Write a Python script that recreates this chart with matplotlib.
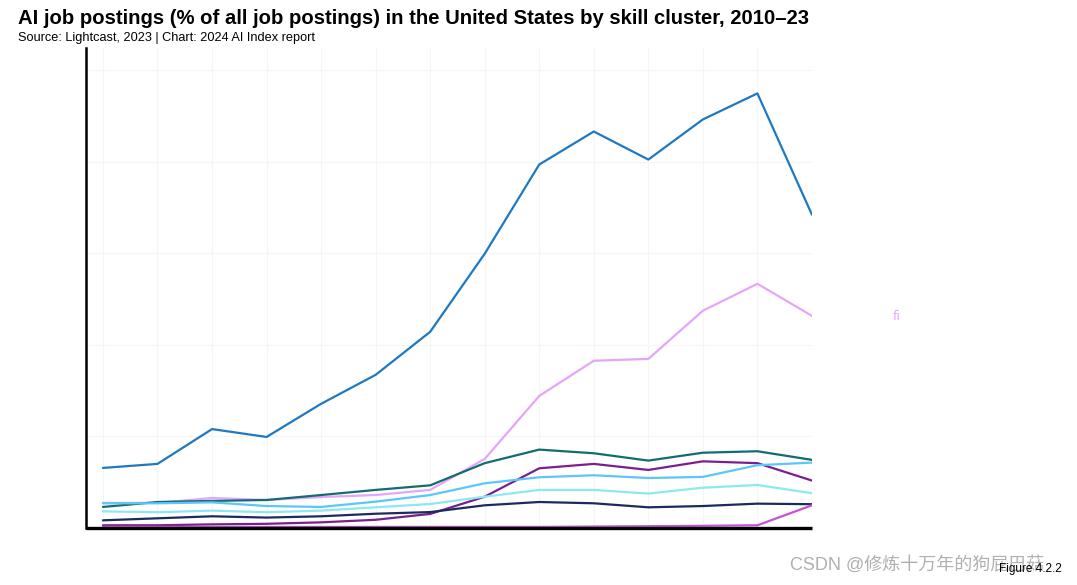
import matplotlib
matplotlib.use("Agg")
import matplotlib.pyplot as plt

years = list(range(2010, 2024))

machine_learning = [0.328, 0.35, 0.54, 0.497, 0.678, 0.836, 1.071, 1.497, 1.984, 2.164, 2.011, 2.23, 2.372, 1.71]
artificial_intelligence = [0.137, 0.137, 0.164, 0.153, 0.169, 0.18, 0.208, 0.377, 0.721, 0.913, 0.923, 1.186, 1.333, 1.158]
natural_language = [0.115, 0.142, 0.148, 0.153, 0.18, 0.208, 0.233, 0.354, 0.428, 0.408, 0.368, 0.411, 0.419, 0.372]
neural_networks = [0.015, 0.015, 0.02, 0.023, 0.031, 0.045, 0.077, 0.171, 0.326, 0.35, 0.317, 0.364, 0.354, 0.259]
visual_recognition = [0.135, 0.135, 0.14, 0.12, 0.115, 0.144, 0.18, 0.244, 0.277, 0.288, 0.273, 0.279, 0.343, 0.357]
robotics = [0.091, 0.086, 0.095, 0.086, 0.095, 0.113, 0.131, 0.171, 0.208, 0.208, 0.188, 0.22, 0.235, 0.19]
autonomous_driving = [0.042, 0.053, 0.064, 0.057, 0.064, 0.078, 0.087, 0.124, 0.142, 0.135, 0.113, 0.12, 0.133, 0.13]
generative_ai = [0.006, 0.006, 0.006, 0.006, 0.006, 0.006, 0.006, 0.006, 0.006, 0.008, 0.01, 0.012, 0.015, 0.124]

series = [
    (machine_learning, "#1f78c0"),
    (artificial_intelligence, "#e4a6fb"),
    (natural_language, "#126d70"),
    (neural_networks, "#7c1f8e"),
    (visual_recognition, "#5cc6f7"),
    (robotics, "#8de8f1"),
    (autonomous_driving, "#1b2b5e"),
    (generative_ai, "#c453d6"),
]

fig = plt.figure(figsize=(10.77, 5.85), dpi=100)
ax = fig.add_axes([0.0799, 0.0974, 0.674, 0.8206])

for vals, col in series:
    ax.plot(years, vals, color=col, lw=1.6, solid_capstyle="round")

ax.set_xlim(2009.69, 2023)
ax.set_ylim(0, 2.62)
ax.set_yticks([0, 0.5, 1.0, 1.5, 2.0, 2.5])
ax.set_xticks(years)
ax.tick_params(length=0, labelleft=False, labelbottom=False)
ax.grid(True, color="#f5f5f5", lw=0.8)
ax.set_axisbelow(True)
for s in ["top", "right"]:
    ax.spines[s].set_visible(False)
ax.spines["left"].set_linewidth(1.8)
ax.spines["bottom"].set_linewidth(2.4)
ax.spines["bottom"].set_capstyle("butt")

fig.text(18/1077, 1 - 19/585, "AI job postings (% of all job postings) in the United States by skill cluster, 2010–23",
         fontsize=14.6, fontweight="bold", family="Liberation Sans", va="center", ha="left")
fig.text(18/1077, 1 - 38/585, "Source: Lightcast, 2023 | Chart: 2024 AI Index report",
         fontsize=9.2, family="Liberation Sans", va="center", ha="left")
fig.text(893/1077, 1 - 316/585, "fi", color="#e4a6fb", fontsize=9, va="center", ha="left")
fig.text(790/1077, 1 - 565/585, "CSDN @修炼十万年的狗屁巴菇", color="#b0b0b0", fontsize=13,
         family=["Liberation Sans", "Noto Sans CJK SC"], va="center", ha="left")
fig.text(1062/1077, 1 - 569/585, "Figure 4.2.2", fontsize=8.5, family="Liberation Sans",
         va="center", ha="right")

fig.savefig("out.png", dpi=100)
